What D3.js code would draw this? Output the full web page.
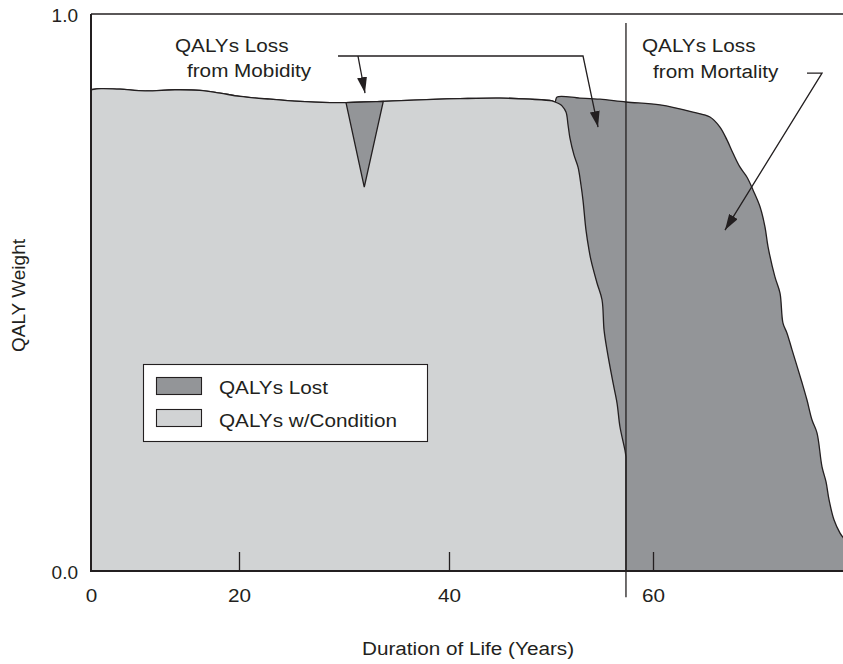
<!DOCTYPE html>
<html>
<head>
<meta charset="utf-8">
<script src="https://cdn.jsdelivr.net/npm/d3@7"></script>
<style>
  html, body { margin: 0; padding: 0; background: #fff; }
  svg { display: block; }
  text { font-family: "Liberation Sans", Arial, Helvetica, sans-serif; fill: #231f20; }
</style>
</head>
<body>
<svg id="chart" width="843" height="664"></svg>
<script>
// Quality weight over the lifetime (upper envelope of all QALYs)
const envelopeYears = [0, 1.35, 3.92, 7.30, 11.35, 14.73, 17.43, 20.10, 22.95, 25.81, 28.67, 30.19, 33.71,
  37.24, 41.08, 45.00, 47.94, 50.10, 50.39, 50.59, 52.84, 54.80, 57.35, 60.68, 63.88, 65.53, 66.50,
  67.18, 67.77, 68.45, 69.13, 69.71, 70.39, 70.87, 71.17, 71.84, 72.33, 72.62, 73.01, 73.50, 74.47,
  74.95, 75.44, 75.92, 76.41, 76.80, 77.09, 77.57, 78.16, 78.74, 79.61];
const envelopeWeights = [0.864, 0.866, 0.865, 0.862, 0.864, 0.863, 0.858, 0.852, 0.847, 0.843, 0.841, 0.841, 0.843,
  0.846, 0.848, 0.849, 0.847, 0.844, 0.842, 0.851, 0.849, 0.847, 0.842, 0.837, 0.824, 0.815, 0.797,
  0.774, 0.750, 0.725, 0.707, 0.684, 0.654, 0.618, 0.582, 0.528, 0.499, 0.445, 0.427, 0.397, 0.338,
  0.307, 0.271, 0.248, 0.187, 0.160, 0.128, 0.092, 0.068, 0.052, 0];

// Edge between the QALYs lived with the condition and those lost to early death
const onsetYears = [50.39, 50.88, 51.08, 51.47, 51.67, 51.86, 52.25, 52.65, 52.94, 53.14, 53.43, 53.73,
  53.92, 54.51, 55.00, 55.20, 55.49, 56.08, 56.47, 56.76, 57.25, 57.35];
const onsetWeights = [0.842, 0.838, 0.835, 0.824, 0.801, 0.777, 0.747, 0.725, 0.693, 0.665, 0.612, 0.576,
  0.558, 0.517, 0.487, 0.433, 0.397, 0.338, 0.302, 0.259, 0.217, 0.205];

// Short-lived morbidity episode
const dipYears = [30.19, 31.93, 33.74];
const dipWeights = [0.841, 0.689, 0.843];

// Age at death with the condition
const deathYear = 57.35;

const xTickValues = [0, 20, 40, 60];
const yTickValues = [0, 1];
const legendLabels = ["QALYs Lost", "QALYs w/Condition"];
const xTitle = "Duration of Life (Years)";
const yTitle = "QALY Weight";

const colLost = "#939598", colCond = "#d1d3d4", ink = "#231f20";
const stretch = 1.09;

const svg = d3.select("#chart");
const x = d3.scaleLinear().domain([0, 20, 40, 60, 80]).range([91, 239, 449, 653, 859]);
const y = d3.scaleLinear().domain([0, 1]).range([571, 14]);
const xRight = 843;

const zip = (xs, ys) => xs.map((v, i) => [v, ys[i]]);
const line = d3.line().x(d => x(d[0])).y(d => y(d[1])).curve(d3.curveCatmullRom.alpha(0.5));

const envelope = zip(envelopeYears, envelopeWeights);
const onset = zip(onsetYears, onsetWeights);
const dip = zip(dipYears, dipWeights);

// Total QALYs (drawn in the "lost" tone; the lived part is laid over it)
svg.append("path")
  .attr("d", line(envelope) + `L${x(envelopeYears[envelopeYears.length - 1])},${y(0)}L${x(0)},${y(0)}Z`)
  .attr("fill", colLost).attr("stroke", ink).attr("stroke-width", 1.3).attr("stroke-linejoin", "round");

// QALYs lived with the condition
const lived = envelope.filter(d => d[0] <= onsetYears[0]);
svg.append("path")
  .attr("d", line(lived) + line(onset).replace(/^M/, "L") + `L${x(deathYear)},${y(0)}L${x(0)},${y(0)}Z`)
  .attr("fill", colCond).attr("stroke", ink).attr("stroke-width", 1.3).attr("stroke-linejoin", "round");

// Morbidity loss
svg.append("path")
  .attr("d", d3.line().x(d => x(d[0])).y(d => y(d[1]))(dip) + "Z")
  .attr("fill", colLost).attr("stroke", ink).attr("stroke-width", 1.3).attr("stroke-linejoin", "miter");

// Death marker line
svg.append("line")
  .attr("x1", x(deathYear)).attr("x2", x(deathYear))
  .attr("y1", y(0.984)).attr("y2", y(-0.047))
  .attr("stroke", ink).attr("stroke-width", 1.3);

// Frame
svg.append("line").attr("x1", x(0)).attr("x2", xRight).attr("y1", y(1)).attr("y2", y(1))
  .attr("stroke", ink).attr("stroke-width", 1.4);
svg.append("line").attr("x1", x(0)).attr("x2", x(0)).attr("y1", y(1)).attr("y2", y(0))
  .attr("stroke", ink).attr("stroke-width", 2);
svg.append("line").attr("x1", x(0) - 1).attr("x2", xRight).attr("y1", y(0)).attr("y2", y(0))
  .attr("stroke", ink).attr("stroke-width", 2);

// X axis: inward ticks with labels below
const gx = svg.append("g").attr("transform", `translate(0,${y(0)})`)
  .call(d3.axisBottom(x).tickValues(xTickValues).tickSize(-19).tickPadding(17.5).tickFormat(d3.format("d")));
gx.select(".domain").remove();
gx.selectAll(".tick line").attr("stroke", ink).attr("stroke-width", 1.3)
  .attr("opacity", d => d === 0 ? 0 : 1);
gx.selectAll(".tick text").attr("font-size", 19).attr("fill", ink)
  .attr("font-family", '"Liberation Sans", Arial, sans-serif')
  .attr("transform", `scale(${stretch},1)`);

// Y axis: end labels only
const gy = svg.append("g").attr("transform", `translate(${x(0)},0)`)
  .call(d3.axisLeft(y).tickValues(yTickValues).tickSize(0).tickPadding(13).tickFormat(d3.format(".1f")));
gy.select(".domain").remove();
gy.selectAll(".tick text").attr("font-size", 19).attr("fill", ink)
  .attr("font-family", '"Liberation Sans", Arial, sans-serif')
  .attr("dy", "0.4em");

function label(px, py, str, anchor) {
  svg.append("text")
    .attr("transform", `translate(${px},${py}) scale(${stretch},1)`)
    .attr("text-anchor", anchor)
    .attr("font-size", 19)
    .text(str);
}

// Axis titles
label(468, 655, xTitle, "middle");
svg.append("text")
  .attr("transform", `translate(25,${(y(0) + y(1)) / 2 + 3}) rotate(-90)`)
  .attr("text-anchor", "middle").attr("font-size", 19).text(yTitle);

// Legend
const lg = svg.append("g");
lg.append("rect").attr("x", 143.5).attr("y", 364.5).attr("width", 284).attr("height", 77)
  .attr("fill", "#fff").attr("stroke", ink).attr("stroke-width", 1.1);
[colLost, colCond].forEach((c, i) => {
  lg.append("rect").attr("x", 156.5).attr("y", 377.5 + i * 32).attr("width", 45).attr("height", 17)
    .attr("fill", c).attr("stroke", ink).attr("stroke-width", 1.1);
  label(219, 394 + i * 33, legendLabels[i], "start");
});

// Annotations
const defs = svg.append("defs");
defs.append("marker").attr("id", "head")
  .attr("viewBox", "0 0 16 10").attr("markerUnits", "userSpaceOnUse")
  .attr("markerWidth", 16).attr("markerHeight", 10)
  .attr("refX", 16).attr("refY", 5).attr("orient", "auto")
  .append("path").attr("d", "M0,0L16,5L0,10Z").attr("fill", ink);

const straight = d3.line().x(d => x(d[0])).y(d => y(d[1]));
function leader(pts) {
  svg.append("path").attr("d", straight(pts)).attr("fill", "none")
    .attr("stroke", ink).attr("stroke-width", 1.3).attr("marker-end", "url(#head)");
}

label(x(11.35), y(0.932), "QALYs Loss", "start");
label(x(12.97), y(0.887), "from Mobidity", "start");
leader([[29.43, 0.9246], [53.14, 0.9246], [54.61, 0.797]]);
leader([[31.33, 0.9246], [32.0, 0.858]]);

label(x(58.92), y(0.932), "QALYs Loss", "start");
label(x(60.0), y(0.885), "from Mortality", "start");
leader([[74.95, 0.894], [76.41, 0.894], [66.99, 0.612]]);
</script>
</body>
</html>
